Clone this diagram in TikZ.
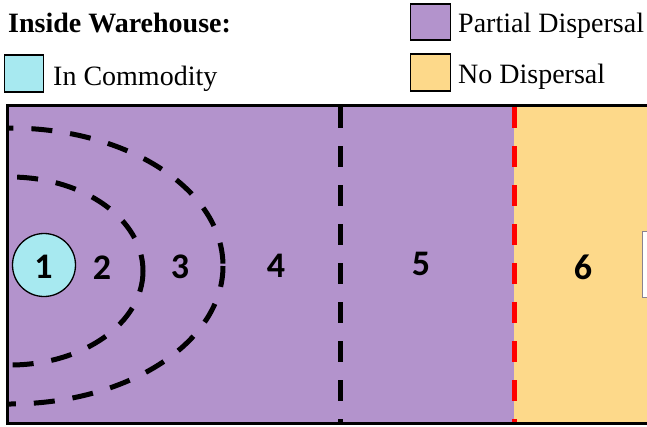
\documentclass[tikz,border=0pt]{standalone}
\usepackage{fontspec}
\setmainfont{Liberation Serif}
\newfontfamily\legfont{Liberation Serif}
\newfontfamily\numfont{Carlito}
\definecolor{purp}{HTML}{B393CC}
\definecolor{yel}{HTML}{FDD98A}
\definecolor{cyn}{HTML}{A7E9F0}
\begin{document}
\begin{tikzpicture}[x=1pt,y=-1pt,
  legtext/.style={anchor=base west,inner sep=0pt,font=\legfont\fontsize{28}{30}\selectfont},
  legbox/.style={draw=black,line width=1.8pt},
  zonenum/.style={inner sep=0pt,font=\numfont\bfseries\fontsize{36}{38}\selectfont},
  zonedash/.style={line width=5pt,dash pattern=on 21pt off 18pt},
]
\useasboundingbox (0,0) rectangle (647,426);
% legend
\node[legtext,font=\legfont\bfseries\fontsize{28}{30}\selectfont] (title) at (8,32) {Inside Warehouse:};
\draw[legbox,fill=cyn] (4.5,55) rectangle (43.5,92);
\node[legtext] (lcom) at (53,85) {In Commodity};
\draw[legbox,fill=purp] (410.5,4) rectangle (450.5,40);
\node[legtext] (lpar) at (458,32) {Partial Dispersal};
\draw[legbox,fill=yel] (410.5,54) rectangle (450.5,91);
\node[legtext] (lno) at (458,83) {No Dispersal};
% warehouse fills
\fill[purp] (7,105) rectangle (514,423);
\fill[yel] (514,105) rectangle (660,423);
% arcs
\begin{scope}
\clip (8.5,106.5) rectangle (514,421.5);
\draw[zonedash] (10,266) ellipse [x radius=213, y radius=138];
\draw[zonedash] (10,271) ellipse [x radius=133, y radius=94];
\end{scope}
% vertical dividers
\coordinate (d1t) at (340,105);
\coordinate (d1b) at (340,423);
\coordinate (d2t) at (514.5,105);
\coordinate (d2b) at (514.5,423);
\draw[zonedash,black,dash phase=-2pt] (d1t) -- (d1b);
\draw[zonedash,red,dash phase=-2pt] (d2t) -- (d2b);
% frame
\draw[line width=3pt] (7,105) rectangle (662,423);
% partial object at right edge
\draw[draw=gray!80!purp,fill=white,line width=1pt] (642.5,231) rectangle (660,297);
% zone 1 circle
\node[circle,draw=black,line width=1.3pt,fill=cyn,minimum size=63pt,inner sep=0pt] (c1) at (44,265) {};
\node[zonenum] (n1) at (43.5,267) {1};
\node[zonenum] (n2) at (102,268) {2};
\node[zonenum] (n3) at (180,267) {3};
\node[zonenum] (n4) at (276,266) {4};
\node[zonenum] (n5) at (421,264) {5};
\node[zonenum] (n6) at (583,267) {6};
\end{tikzpicture}
\end{document}
